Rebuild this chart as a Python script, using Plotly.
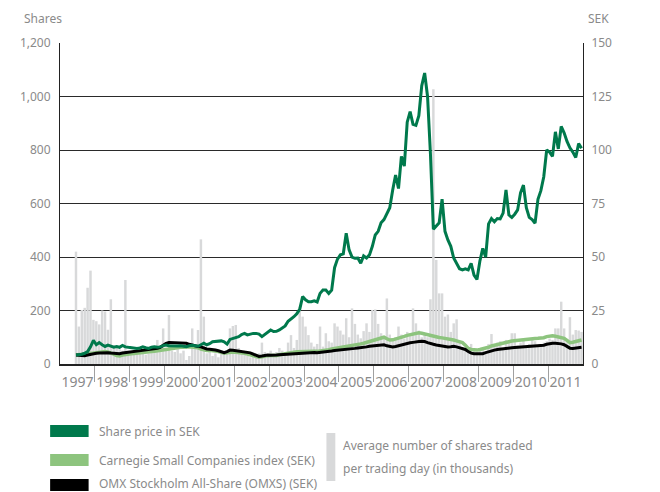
import pandas as pd
import plotly.graph_objects as go

# Monthly observations, June 1997 - December 2011
MONTHS = pd.date_range("1997-06-01", "2011-12-01", freq="MS")
YEARS = list(range(1997, 2012))

# Share price in SEK (right axis)
SHARE_PRICE = [
    4.2, 4.3, 4.6, 5.0, 5.8, 8.0, 11.0,
    9.0, 10.0, 9.0, 8.2, 8.8, 8.5, 7.9, 8.2, 7.8, 8.7, 8.0, 7.8,
    7.6, 7.5, 7.3, 7.5, 8.0, 7.6, 7.3, 7.8, 8.1, 7.8, 8.0, 8.6,
    8.9, 8.5, 8.4, 8.3, 8.4, 8.5, 8.3, 8.1, 8.5, 8.7, 8.5, 8.3,
    9.0, 9.7, 9.0, 9.5, 10.4, 10.6, 10.9, 10.8, 10.4, 9.3, 11.5, 12.0,
    12.3, 12.8, 13.8, 14.3, 13.6, 14.0, 14.3, 14.3, 14.0, 12.8, 13.9, 15.0,
    15.9, 15.2, 15.3, 15.9, 16.8, 17.8, 20.0, 21.0, 22.1, 23.5, 25.5, 31.5,
    30.0, 29.1, 29.1, 29.5, 29.0, 33.0, 34.6, 34.6, 33.0, 34.5, 45.0, 49.0,
    51.0, 51.5, 61.1, 53.3, 50.0, 49.4, 49.5, 47.1, 50.5, 49.5, 51.0, 55.0,
    60.3, 62.0, 66.0, 67.5, 70.0, 73.0, 81.3, 88.3, 82.0, 97.0, 92.5, 113.0,
    117.9, 112.0, 111.5, 116.0, 130.0, 136.0, 125.0, 98.0, 63.0, 64.5, 66.0, 77.0,
    62.0, 58.0, 55.0, 49.5, 47.0, 44.5, 44.0, 44.5, 44.0, 47.0, 41.5, 39.5,
    48.0, 54.0, 50.0, 65.5, 68.0, 66.5, 68.0, 67.8, 70.5, 81.3, 69.6, 68.5,
    70.0, 72.0, 80.0, 83.6, 73.0, 68.5, 67.5, 65.8, 77.0, 81.0, 87.5, 100.0,
    99.0, 97.0, 108.5, 100.5, 111.0, 108.0, 104.0, 101.0, 99.0, 96.5, 103.0, 100.8,
]

# Carnegie Small Companies index, rebased to SEK (right axis)
CARNEGIE = [
    4.2, 4.3, 4.5, 4.7, 4.8, 4.9, 5.1,
    5.3, 5.5, 5.6, 5.8, 5.6, 5.2, 4.6, 3.9, 3.8, 4.2, 4.5, 4.7,
    4.8, 4.9, 5.0, 5.1, 5.3, 5.5, 5.7, 5.8, 6.0, 6.2, 6.6, 7.0,
    7.2, 7.4, 7.5, 7.6, 7.7, 7.8, 7.8, 8.0, 8.1, 7.9, 7.8, 7.6,
    7.0, 6.5, 6.3, 6.4, 6.3, 6.0, 5.8, 5.4, 5.0, 5.2, 5.5, 5.6,
    5.5, 5.4, 5.2, 5.0, 4.6, 4.2, 3.7, 3.5, 3.2, 3.4, 3.8, 3.9,
    4.0, 3.9, 4.0, 4.3, 4.6, 5.0, 5.2, 5.4, 5.5, 5.7, 5.8, 5.9,
    6.0, 6.0, 6.1, 6.0, 5.9, 6.0, 6.1, 6.4, 6.7, 7.0, 7.2, 7.4,
    7.6, 7.8, 8.0, 8.2, 8.5, 8.8, 9.1, 9.4, 9.7, 10.1, 10.5, 10.9,
    11.2, 11.6, 12.0, 12.5, 11.8, 11.2, 11.3, 11.6, 12.2, 12.6, 12.9, 13.4,
    13.8, 14.0, 14.2, 14.6, 14.4, 14.0, 13.6, 13.2, 12.8, 12.8, 12.4, 12.2,
    12.0, 11.9, 11.6, 11.2, 10.8, 10.4, 10.0, 8.8, 7.3, 6.8, 6.5, 6.5,
    6.8, 7.0, 7.3, 7.8, 8.4, 8.8, 9.2, 9.5, 9.7, 10.0, 10.4, 10.7,
    10.9, 11.0, 11.3, 11.5, 11.4, 11.5, 11.7, 11.9, 12.0, 12.0, 12.3, 12.8,
    13.1, 13.2, 13.0, 12.8, 12.4, 12.0, 11.0, 10.0, 10.2, 10.6, 11.0, 11.2,
]

# OMX Stockholm All-Share, rebased to SEK (right axis)
OMXS = [
    4.2, 4.0, 3.8, 3.9, 4.2, 4.5, 4.9,
    5.0, 5.1, 5.2, 5.3, 5.3, 5.1, 4.9, 4.7, 4.8, 5.1, 5.3, 5.5,
    5.7, 5.8, 6.0, 6.2, 6.4, 6.5, 6.6, 6.8, 7.0, 7.3, 7.8, 8.9,
    9.6, 10.0, 9.9, 9.8, 9.7, 9.7, 9.6, 9.7, 9.2, 8.8, 8.4, 8.2,
    8.0, 7.5, 7.0, 6.9, 6.8, 6.5, 6.2, 5.8, 5.3, 5.8, 6.5, 6.4,
    6.2, 6.0, 5.9, 5.8, 5.5, 5.2, 4.6, 4.0, 3.5, 3.7, 4.1, 4.2,
    4.1, 4.0, 4.2, 4.3, 4.4, 4.6, 4.8, 4.9, 5.0, 5.1, 5.2, 5.3,
    5.2, 5.3, 5.4, 5.4, 5.3, 5.4, 5.5, 5.7, 5.9, 6.1, 6.3, 6.4,
    6.5, 6.6, 6.8, 6.9, 7.1, 7.3, 7.5, 7.6, 7.8, 8.0, 8.3, 8.5,
    8.6, 8.7, 8.9, 9.0, 8.5, 8.1, 8.0, 8.2, 8.6, 9.0, 9.4, 9.7,
    9.9, 10.1, 10.4, 10.5, 10.6, 10.5, 10.0, 9.5, 9.2, 8.9, 8.6, 8.3,
    8.1, 8.0, 8.1, 8.3, 8.0, 7.5, 7.2, 6.8, 5.8, 5.1, 4.8, 4.7,
    4.7, 4.8, 5.3, 5.8, 6.2, 6.5, 6.8, 7.0, 7.3, 7.4, 7.5, 7.6,
    7.7, 7.8, 7.8, 7.9, 8.0, 8.0, 8.1, 8.3, 8.4, 8.6, 8.8, 9.2,
    9.6, 9.7, 9.7, 9.6, 9.4, 9.0, 8.2, 7.4, 7.3, 7.5, 7.7, 7.8,
]

# Average number of shares traded per trading day, thousands (left axis)
VOLUME = [
    420, 140, 202, 210, 285, 349, 165,
    160, 148, 200, 196, 128, 242, 70, 60, 55, 50, 314, 50,
    45, 40, 45, 50, 40, 35, 40, 45, 50, 90, 70, 133,
    60, 183, 50, 45, 55, 40, 50, 15, 30, 133, 60, 127,
    466, 177, 40, 50, 30, 40, 25, 45, 35, 50, 133, 142,
    146, 60, 45, 35, 30, 25, 45, 35, 40, 80, 45, 30,
    50, 40, 45, 60, 50, 45, 80, 108, 60, 90, 214, 177,
    140, 108, 80, 65, 75, 140, 65, 115, 85, 80, 152, 140,
    125, 110, 171, 100, 208, 150, 110, 96, 123, 152, 120, 202,
    204, 150, 115, 95, 245, 110, 90, 100, 140, 110, 95, 120,
    110, 208, 152, 125, 100, 110, 100, 242, 1027, 389, 264, 264,
    177, 185, 120, 152, 167, 80, 60, 50, 60, 75, 50, 45,
    50, 60, 40, 75, 112, 70, 80, 85, 60, 90, 80, 115,
    115, 70, 80, 90, 60, 75, 95, 85, 65, 70, 80, 85,
    95, 90, 133, 133, 233, 133, 90, 175, 110, 127, 125, 120,
]

DARK_GREEN = "#00794c"
LIGHT_GREEN = "#8dc47e"
BAR_GREY = "#d8d9da"
TEXT_GREY = "#8a8a8a"
FONT = "Noto Sans"

# decimal year at the middle of each month
x = MONTHS.year + (MONTHS.month - 0.5) / 12

fig = go.Figure()

fig.add_trace(go.Bar(
    x=x, y=VOLUME, width=1 / 12 * 0.85,
    marker=dict(color=BAR_GREY, line_width=0),
    name="Average number of shares traded",
))
fig.add_trace(go.Scatter(
    x=x, y=CARNEGIE, yaxis="y2", mode="lines",
    line=dict(color=LIGHT_GREEN, width=3.5),
    name="Carnegie Small Companies index (SEK)",
))
fig.add_trace(go.Scatter(
    x=x, y=OMXS, yaxis="y2", mode="lines",
    line=dict(color="#000000", width=3),
    name="OMX Stockholm All-Share (OMXS) (SEK)",
))
fig.add_trace(go.Scatter(
    x=x, y=SHARE_PRICE, yaxis="y2", mode="lines",
    line=dict(color=DARK_GREEN, width=3),
    name="Share price in SEK",
))

# the page puts the figure 8px in from the window corner, so the figure is
# 652x484 and window pixel positions are used below
PAGE = 8
W, H = 660 - PAGE, 492 - PAGE
# plot area in window pixels: x 53..583, y 43..364
L, R, T, B = 53, 583, 43, 364


def px(xp):
    return (xp - L) / (R - L)


def py(yp):
    return (B - yp) / (B - T)


shapes = []
annotations = [
    dict(text="Shares", x=px(15), y=py(18), xanchor="left"),
    dict(text="SEK", x=px(587), y=py(18), xanchor="left"),
]

legend_left = [
    ("Share price in SEK", DARK_GREEN, 431, 431),
    ("Carnegie Small Companies index (SEK)", LIGHT_GREEN, 460, 460),
    ("OMX Stockholm All-Share (OMXS) (SEK)", "#000000", 485, 483),
]
for label, color, yc, ytext in legend_left:
    shapes.append(dict(
        type="rect", xref="paper", yref="paper",
        x0=px(43), x1=px(82), y0=py(yc - 6), y1=py(yc + 6),
        fillcolor=color, line_width=0,
    ))
    annotations.append(dict(
        text=label, x=px(92), y=py(ytext), xanchor="left",
        font=dict(family=FONT, size=12, color=TEXT_GREY),
    ))

shapes.append(dict(
    type="rect", xref="paper", yref="paper",
    x0=px(323), x1=px(332), y0=py(433), y1=py(481),
    fillcolor=BAR_GREY, line_width=0,
))
for line, yc in [("Average number of shares traded", 445),
                 ("per trading day (in thousands)", 468)]:
    annotations.append(dict(
        text=line, x=px(339), y=py(yc), xanchor="left",
        font=dict(family=FONT, size=12, color=TEXT_GREY),
    ))

for a in annotations:
    a.setdefault("xref", "paper")
    a.setdefault("yref", "paper")
    a.setdefault("yanchor", "middle")
    a.setdefault("showarrow", False)
    a.setdefault("borderpad", 0)
    a.setdefault("font", dict(family=FONT, size=12, color=TEXT_GREY))

fig.update_layout(
    width=W,
    height=H,
    margin=dict(l=L - PAGE, r=W - (R - PAGE), t=T - PAGE, b=H - (B - PAGE)),
    plot_bgcolor="white",
    paper_bgcolor="white",
    showlegend=False,
    shapes=shapes,
    annotations=annotations,
    xaxis=dict(
        range=[1997, 2012],
        tickvals=[yr + 0.5 for yr in YEARS],
        ticktext=[str(yr) for yr in YEARS],
        ticks="",
        ticklabelstandoff=4,
        tickfont=dict(family=FONT, size=14, color=TEXT_GREY),
        minor=dict(tickvals=YEARS[1:], ticks="outside", ticklen=16,
                   tickcolor="#a0a0a0", tickwidth=1),
        showgrid=False,
        zeroline=False,
        showline=True,
        linecolor="#222222",
        linewidth=2,
    ),
    yaxis=dict(
        range=[0, 1200],
        tickvals=[0, 200, 400, 600, 800, 1000, 1200],
        tickformat=",",
        ticks="",
        ticklabelstandoff=6,
        tickfont=dict(family=FONT, size=12, color=TEXT_GREY),
        showgrid=True,
        gridcolor="#2a2a2a",
        gridwidth=1,
        zeroline=False,
        showline=True,
        linecolor="#222222",
        linewidth=1,
    ),
    yaxis2=dict(
        overlaying="y",
        side="right",
        range=[0, 150],
        tickvals=[0, 25, 50, 75, 100, 125, 150],
        ticks="",
        ticklabelstandoff=5,
        tickfont=dict(family=FONT, size=12, color=TEXT_GREY),
        showgrid=False,
        zeroline=False,
        showline=True,
        linecolor="#222222",
        linewidth=1,
    ),
)

fig.write_html("out.html")
